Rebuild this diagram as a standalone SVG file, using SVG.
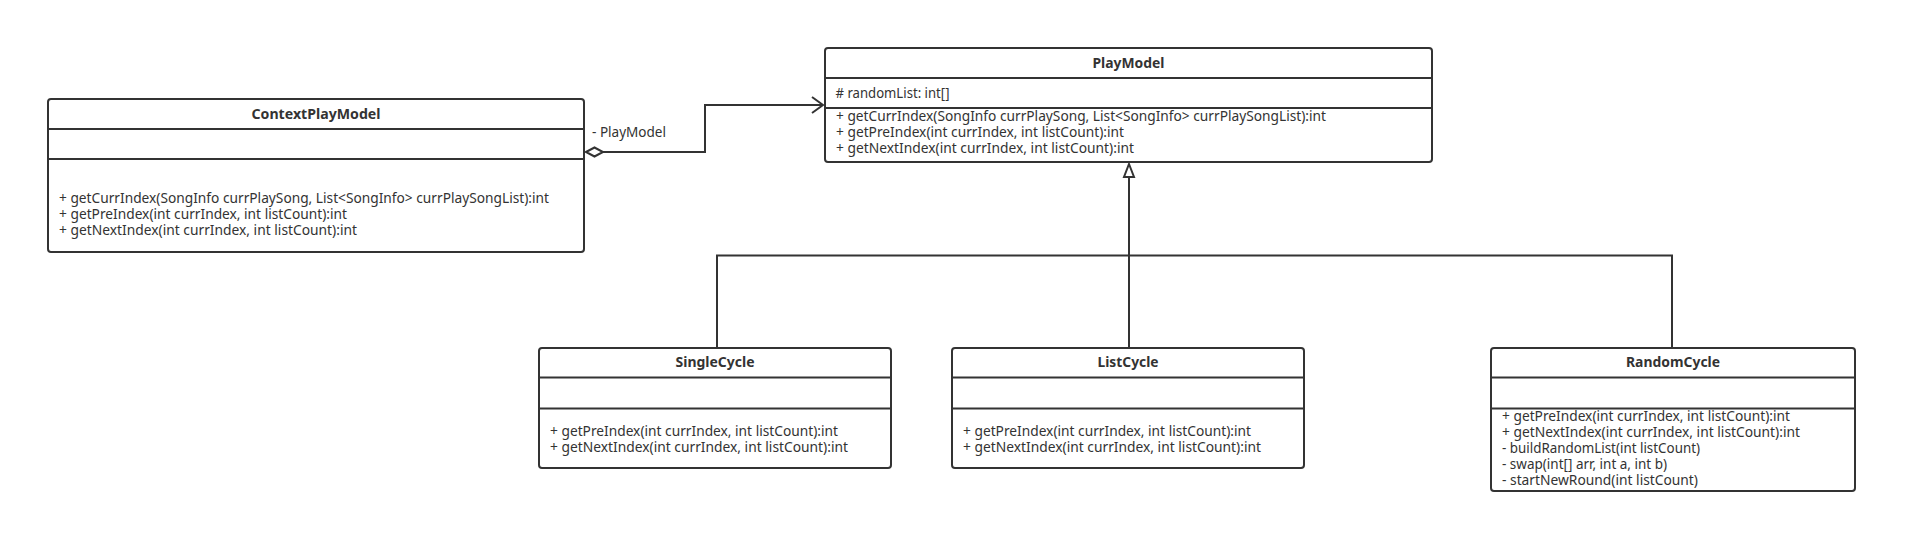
<svg xmlns="http://www.w3.org/2000/svg" width="1917" height="553" viewBox="0 0 1917 553">
<style>
.box{fill:#fff;stroke:#333;stroke-width:2}
.div{stroke:#333;stroke-width:2}
.t{font-family:"Noto Sans","Liberation Sans",sans-serif;font-size:13.5px;fill:#333}
.title{font-family:"Noto Sans","Liberation Sans",sans-serif;font-size:13.5px;font-weight:bold;fill:#333;text-anchor:middle}
.ln{fill:none;stroke:#333;stroke-width:2}
</style>
<rect width="1917" height="553" fill="#fff"/>
<g id="connectors">
  <polyline class="ln" points="603,152 705,152 705,105 823,105"/>
  <polyline class="ln" points="812,97 823,105 812,113"/>
  <polygon points="586,152 594.5,147.5 603,152 594.5,156.5" fill="#fff" stroke="#333" stroke-width="2"/>
  <text class="t" x="592" y="136.5" textLength="74" lengthAdjust="spacingAndGlyphs">- PlayModel</text>
  <polyline class="ln" points="717,347 717,255.5 1672,255.5 1672,347"/>
  <line class="ln" x1="1129" y1="347" x2="1129" y2="177"/>
  <polygon points="1129,164 1134,177 1124,177" fill="#fff" stroke="#333" stroke-width="2"/>
</g>
<g id="ContextPlayModel">
  <rect class="box" x="48" y="99" width="536" height="153" rx="3"/>
  <line class="div" x1="48" y1="129" x2="584" y2="129"/>
  <line class="div" x1="48" y1="159" x2="584" y2="159"/>
  <text class="title" x="316" y="118.5" textLength="129" lengthAdjust="spacingAndGlyphs">ContextPlayModel</text>
  <text class="t" x="59" y="203" textLength="490" lengthAdjust="spacingAndGlyphs">+ getCurrIndex(SongInfo currPlaySong, List&lt;SongInfo&gt; currPlaySongList):int</text>
  <text class="t" x="59" y="219" textLength="288" lengthAdjust="spacingAndGlyphs">+ getPreIndex(int currIndex, int listCount):int</text>
  <text class="t" x="59" y="235" textLength="298" lengthAdjust="spacingAndGlyphs">+ getNextIndex(int currIndex, int listCount):int</text>
</g>
<g id="PlayModel">
  <rect class="box" x="825" y="48" width="607" height="114" rx="3"/>
  <line class="div" x1="825" y1="78" x2="1432" y2="78"/>
  <line class="div" x1="825" y1="108" x2="1432" y2="108"/>
  <text class="title" x="1128.5" y="67.5" textLength="72" lengthAdjust="spacingAndGlyphs">PlayModel</text>
  <text class="t" x="835.5" y="97.5" textLength="114" lengthAdjust="spacingAndGlyphs"># randomList: int[]</text>
  <text class="t" x="836" y="120.5" textLength="490" lengthAdjust="spacingAndGlyphs">+ getCurrIndex(SongInfo currPlaySong, List&lt;SongInfo&gt; currPlaySongList):int</text>
  <text class="t" x="836" y="136.5" textLength="288" lengthAdjust="spacingAndGlyphs">+ getPreIndex(int currIndex, int listCount):int</text>
  <text class="t" x="836" y="152.5" textLength="298" lengthAdjust="spacingAndGlyphs">+ getNextIndex(int currIndex, int listCount):int</text>
</g>
<g id="SingleCycle">
  <rect class="box" x="539" y="348" width="352" height="120" rx="3"/>
  <line class="div" x1="539" y1="377.5" x2="891" y2="377.5"/>
  <line class="div" x1="539" y1="408.5" x2="891" y2="408.5"/>
  <text class="title" x="715" y="367" textLength="79" lengthAdjust="spacingAndGlyphs">SingleCycle</text>
  <text class="t" x="550" y="436" textLength="288" lengthAdjust="spacingAndGlyphs">+ getPreIndex(int currIndex, int listCount):int</text>
  <text class="t" x="550" y="452" textLength="298" lengthAdjust="spacingAndGlyphs">+ getNextIndex(int currIndex, int listCount):int</text>
</g>
<g id="ListCycle">
  <rect class="box" x="952" y="348" width="352" height="120" rx="3"/>
  <line class="div" x1="952" y1="377.5" x2="1304" y2="377.5"/>
  <line class="div" x1="952" y1="408.5" x2="1304" y2="408.5"/>
  <text class="title" x="1128" y="367" textLength="61" lengthAdjust="spacingAndGlyphs">ListCycle</text>
  <text class="t" x="963" y="436" textLength="288" lengthAdjust="spacingAndGlyphs">+ getPreIndex(int currIndex, int listCount):int</text>
  <text class="t" x="963" y="452" textLength="298" lengthAdjust="spacingAndGlyphs">+ getNextIndex(int currIndex, int listCount):int</text>
</g>
<g id="RandomCycle">
  <rect class="box" x="1491" y="348" width="364" height="143" rx="3"/>
  <line class="div" x1="1491" y1="377.5" x2="1855" y2="377.5"/>
  <line class="div" x1="1491" y1="408.5" x2="1855" y2="408.5"/>
  <text class="title" x="1673" y="367" textLength="94" lengthAdjust="spacingAndGlyphs">RandomCycle</text>
  <text class="t" x="1502" y="420.5" textLength="288" lengthAdjust="spacingAndGlyphs">+ getPreIndex(int currIndex, int listCount):int</text>
  <text class="t" x="1502" y="436.5" textLength="298" lengthAdjust="spacingAndGlyphs">+ getNextIndex(int currIndex, int listCount):int</text>
  <text class="t" x="1502" y="452.5" textLength="198" lengthAdjust="spacingAndGlyphs">- buildRandomList(int listCount)</text>
  <text class="t" x="1502" y="468.5" textLength="165" lengthAdjust="spacingAndGlyphs">- swap(int[] arr, int a, int b)</text>
  <text class="t" x="1502" y="484.5" textLength="196" lengthAdjust="spacingAndGlyphs">- startNewRound(int listCount)</text>
</g>
</svg>
